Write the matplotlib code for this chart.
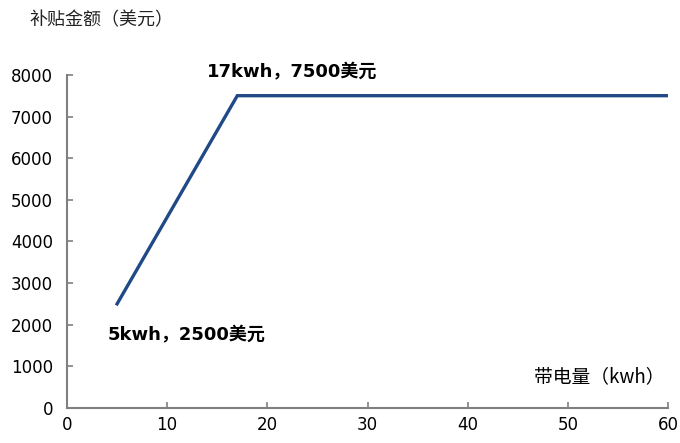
import matplotlib.pyplot as plt

plt.rcParams['font.family'] = ['DejaVu Sans', 'Noto Sans CJK SC']

# battery capacity (kwh) vs subsidy (USD)
capacity = [5, 17, 60]
subsidy = [2500, 7500, 7500]
x_ticks = [0, 10, 20, 30, 40, 50, 60]
y_ticks = [0, 1000, 2000, 3000, 4000, 5000, 6000, 7000, 8000]

fig = plt.figure(figsize=(6.8, 4.43), dpi=100)
ax = fig.add_axes([0.0985, 0.079, 0.884, 0.752])

ax.plot(capacity, subsidy, color='#1F4A87', linewidth=2.4, solid_joinstyle='miter')

ax.set_xlim(0, 60)
ax.set_ylim(0, 8000)
ax.set_xticks(x_ticks)
ax.set_yticks(y_ticks)
ax.tick_params(direction='in', length=4, width=1.2, color='#808080', labelsize=12, pad=6)
ax.tick_params(axis='y', pad=10)

for s in ['top', 'right']:
    ax.spines[s].set_visible(False)
for s in ['left', 'bottom']:
    ax.spines[s].set_color('#808080')
    ax.spines[s].set_linewidth(1.5)

cjk = ['DejaVu Sans', 'Noto Sans CJK SC']
ax.text(14, 8070, '17kwh，7500美元', ha='left', va='center',
        fontsize=13, fontweight='bold', family=cjk)
ax.text(4.1, 1750, '5kwh，2500美元', ha='left', va='center',
        fontsize=13, fontweight='bold', family=cjk)

fig.text(0.044, 0.955, '补贴金额（美元）', ha='left', va='center', fontsize=13,
         family=['Noto Sans CJK SC', 'DejaVu Sans'], color='#222222')
ax.text(59.6, 745, '带电量（kwh）', ha='right', va='center', fontsize=13.5,
        family=['Noto Sans CJK SC', 'DejaVu Sans'])

fig.savefig('out.png', dpi=100)
